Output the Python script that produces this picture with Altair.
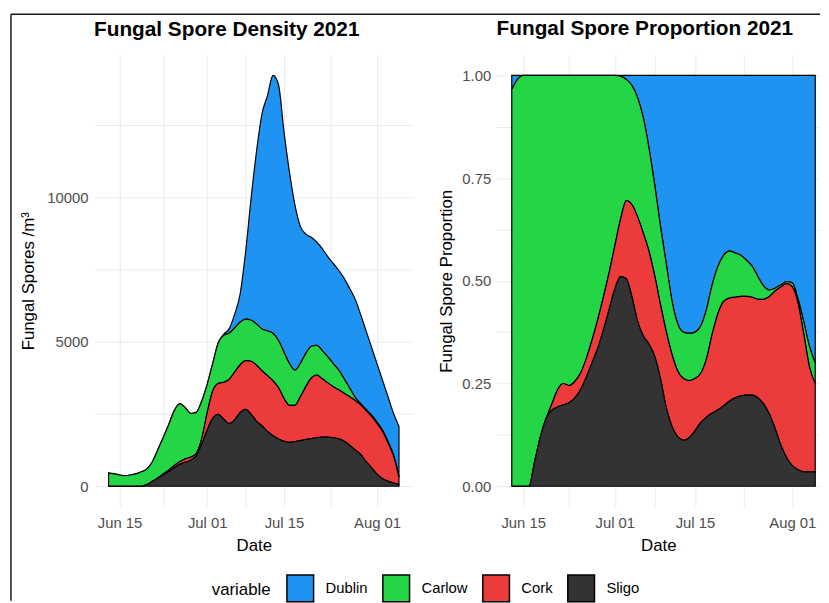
import altair as alt
import pandas as pd

# ---------------- data ----------------
dates = pd.date_range("2021-06-13", "2021-08-05", freq="D")  # 54 days
series = ["Dublin", "Carlow", "Cork", "Sligo"]
colors = ["#1E93F2", "#24D646", "#EB3B3B", "#333333"]
stack_rank = {"Sligo": 0, "Cork": 1, "Carlow": 2, "Dublin": 3}

dublin_density = [15, 5] + [0] * 18 + [
    20, 30, 150, 470, 970, 2310, 4200, 5980, 7450, 8150, 8930, 8870, 7650,
    6650, 5730, 4750, 4130, 3770, 3570, 3530, 3470, 3470, 3460, 3480, 3450,
    3400, 3090, 2720, 2350, 2030, 1730, 1560, 1440, 1740]
carlow_density = [
    450, 430, 390, 370, 390, 430, 500, 540, 680, 980, 1270, 1590, 1900, 2010,
    1770, 1510, 1430, 1300, 980, 950, 1390, 1630, 1600, 1530, 1480, 1440, 1420,
    1430, 1450, 1550, 1650, 1630, 1600, 1450, 1220, 1150, 1150, 1100, 1030, 980,
    900, 800, 680, 500, 300, 110, 40, 40, 40, 40, 40, 40, 40, 30]
cork_density = [0] * 10 + [
    30, 50, 80, 90, 120, 110, 80, 200, 600, 950, 1070, 1270, 1530, 1650, 1650,
    1690, 1830, 1940, 1910, 1930, 1900, 1780, 1490, 1280, 1250, 1520, 1830,
    2100, 2170, 2020, 1880, 1770, 1700, 1660, 1680, 1710, 1720, 1770, 1780,
    1750, 1640, 1330, 940, 230]
sligo_density = [0] * 7 + [
    60, 170, 290, 400, 510, 640, 760, 830, 900, 1050, 1450, 1950, 2350, 2490,
    2330, 2170, 2300, 2550, 2660, 2500, 2250, 2090, 1900, 1750, 1640, 1560,
    1520, 1550, 1580, 1620, 1650, 1680, 1700, 1700, 1680, 1640, 1560, 1420,
    1260, 1100, 850, 640, 420, 260, 170, 110, 70]

dublin_prop = [0.035, 0.01] + [0] * 17 + [
    0.002, 0.01, 0.025, 0.055, 0.105, 0.18, 0.27, 0.37, 0.46, 0.55, 0.605,
    0.625, 0.628, 0.625, 0.61, 0.57, 0.51, 0.465, 0.438, 0.428, 0.432, 0.438,
    0.45, 0.465, 0.49, 0.513, 0.522, 0.518, 0.51, 0.502, 0.505, 0.545, 0.60,
    0.66, 0.70]
carlow_prop = [
    0.965, 0.99, 1.0, 1.0, 0.94, 0.88, 0.835, 0.80, 0.765, 0.75, 0.755, 0.745,
    0.725, 0.69, 0.645, 0.595, 0.54, 0.48, 0.415, 0.348, 0.295, 0.29, 0.29,
    0.28, 0.25, 0.22, 0.19, 0.165, 0.13, 0.115, 0.113, 0.115, 0.113, 0.115,
    0.12, 0.12, 0.115, 0.112, 0.114, 0.108, 0.10, 0.088, 0.075, 0.055, 0.032,
    0.016, 0.007, 0.005, 0.005, 0.01, 0.01, 0.03, 0.05, 0.05]
cork_prop = [0] * 7 + [
    0.015, 0.042, 0.052, 0.042, 0.04, 0.04, 0.045, 0.055, 0.07, 0.08, 0.09,
    0.105, 0.14, 0.19, 0.225, 0.255, 0.25, 0.225, 0.195, 0.18, 0.185, 0.175,
    0.16, 0.15, 0.139, 0.127, 0.12, 0.142, 0.192, 0.234, 0.254, 0.251, 0.245,
    0.242, 0.24, 0.238, 0.24, 0.255, 0.287, 0.335, 0.385, 0.423, 0.435, 0.405,
    0.335, 0.255, 0.215]
sligo_prop = [
    0, 0, 0, 0, 0.06, 0.12, 0.165, 0.185, 0.193, 0.198, 0.203, 0.215, 0.235,
    0.265, 0.30, 0.335, 0.38, 0.43, 0.48, 0.51, 0.505, 0.46, 0.40, 0.365,
    0.345, 0.315, 0.26, 0.19, 0.145, 0.12, 0.112, 0.118, 0.135, 0.155, 0.168,
    0.178, 0.186, 0.196, 0.207, 0.215, 0.22, 0.222, 0.222, 0.215, 0.2, 0.175,
    0.14, 0.10, 0.07, 0.05, 0.04, 0.035, 0.035, 0.035]

density = {"Dublin": dublin_density, "Carlow": carlow_density,
           "Cork": cork_density, "Sligo": sligo_density}
proportion = {"Dublin": dublin_prop, "Carlow": carlow_prop,
              "Cork": cork_prop, "Sligo": sligo_prop}

rows = []
for name in series:
    for d, v, p in zip(dates, density[name], proportion[name]):
        rows.append({"date": d, "variable": name, "density": v,
                     "proportion": p, "rank": stack_rank[name]})
df = pd.DataFrame(rows)
frame_df = pd.DataFrame({"k": [0]})

FONT = "Liberation Sans"
GRID = "#EBEBEB"
W_LEFT, W_RIGHT, H = 323, 327, 457
FRAME = "#1a1a1a"


def dt(m, d, h=0, mi=0):
    return alt.DateTime(year=2021, month=m, date=d, hours=h, minutes=mi)


x_values = [dt(6, 15), dt(6, 23), dt(7, 1), dt(7, 8), dt(7, 15), dt(7, 23, 12), dt(8, 1)]
x_label_expr = ("indexof(['Jun 15','Jul 01','Jul 15','Aug 01'], timeFormat(datum.value,'%b %d')) >= 0"
                " ? timeFormat(datum.value,'%b %d') : ''")


def x_axis():
    return alt.Axis(title="Date", values=x_values, format="%b %d", labelExpr=x_label_expr,
                    grid=True, gridColor=GRID, gridWidth=1, ticks=False, domain=False,
                    labelFontSize=15, labelColor="#4D4D4D", labelPadding=9,
                    labelOverlap=False, labelFlush=False,
                    titleFontSize=17, titleFontWeight="normal", titleColor="black",
                    titlePadding=7)


color = alt.Color(
    "variable:N",
    scale=alt.Scale(domain=series, range=colors),
    legend=alt.Legend(
        title="variable", orient="none", direction="horizontal", titleOrient="left",
        legendX=119, legendY=525, symbolType="square", symbolSize=729,
        symbolStrokeColor="black", symbolStrokeWidth=1.5, symbolOpacity=1,
        labelFontSize=15, labelColor="black", labelOffset=11, columnPadding=12,
        titleFontSize=17, titleFontWeight="normal", titleColor="black", titlePadding=15,
        titleBaseline="middle", titleAnchor="middle"),
)

area_left = alt.Chart(df).mark_area(
    interpolate="monotone", stroke="black", strokeWidth=1.2, opacity=1
).encode(
    x=alt.X("date:T", scale=alt.Scale(domain=[dt(6, 10, 8, 24), dt(8, 7, 15, 36)]),
            axis=x_axis()),
    y=alt.Y("density:Q", stack="zero",
            scale=alt.Scale(domain=[-711, 14941], nice=False, zero=False),
            axis=alt.Axis(title="Fungal Spores /m³",
                          values=[0, 2500, 5000, 7500, 10000, 12500],
                          labelExpr="datum.value % 5000 == 0 ? format(datum.value, 'd') : ''",
                          grid=True, gridColor=GRID, gridWidth=1, ticks=False, domain=False,
                          labelFontSize=15, labelColor="#4D4D4D", labelPadding=6,
                          titleFontSize=17, titleFontWeight="normal", titleColor="black",
                          titlePadding=10)),
    color=color,
    order=alt.Order("rank:Q"),
)

# thin picture frame (top and left edges) as in the reference image
frame_left_v = alt.Chart(frame_df).mark_rule(color=FRAME, strokeWidth=1.5).encode(
    x=alt.value(-84), y=alt.value(-41), y2=alt.value(552))
frame_top = alt.Chart(frame_df).mark_rule(color=FRAME, strokeWidth=1.5).encode(
    x=alt.value(-84), x2=alt.value(734), y=alt.value(-41))

left = alt.layer(area_left, frame_left_v, frame_top).properties(
    width=W_LEFT, height=H,
    title=alt.TitleParams("Fungal Spore Density 2021", anchor="start", frame="group",
                          fontSize=21, fontWeight="bold", color="black", offset=-27),
)

area_right = alt.Chart(df).mark_area(
    interpolate="monotone", stroke="black", strokeWidth=1.2, opacity=1
).encode(
    x=alt.X("date:T", scale=alt.Scale(domain=[dt(6, 10, 8, 24), dt(8, 5, 20, 0)]),
            axis=x_axis()),
    y=alt.Y("proportion:Q", stack="normalize",
            scale=alt.Scale(domain=[-0.05, 1.05], nice=False, zero=False),
            axis=alt.Axis(title="Fungal Spore Proportion",
                          values=[0, 0.125, 0.25, 0.375, 0.5, 0.625, 0.75, 0.875, 1.0],
                          labelExpr="(datum.value * 4) % 1 == 0 ? format(datum.value, '.2f') : ''",
                          grid=True, gridColor=GRID, gridWidth=1, ticks=False, domain=False,
                          labelFontSize=15, labelColor="#4D4D4D", labelPadding=6,
                          titleFontSize=17, titleFontWeight="normal", titleColor="black",
                          titlePadding=6)),
    color=color,
    order=alt.Order("rank:Q"),
).properties(
    width=W_RIGHT, height=H,
    title=alt.TitleParams("Fungal Spore Proportion 2021", anchor="start", frame="group",
                          fontSize=21, fontWeight="bold", color="black", offset=16),
)

chart = alt.hconcat(left, area_right, spacing=84, bounds="flush").properties(
    padding={"left": 2, "top": 2, "right": 0, "bottom": 0},
    background="white",
).configure(font=FONT).configure_view(stroke=None)

chart.save("out.html", embed_options={"renderer": "svg", "actions": False})
